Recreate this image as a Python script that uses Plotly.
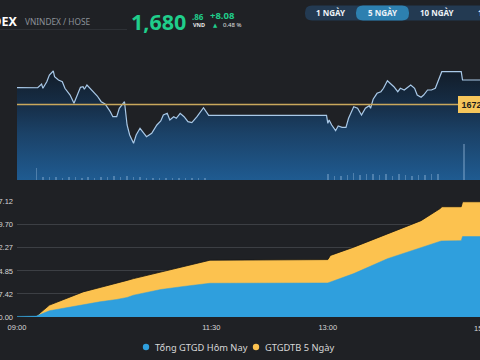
import plotly.graph_objects as go

DAY = "2025-01-06 "

# ---------------- data ----------------
ref_price = 1672.78

price_time = ["09:00", "09:15", "09:16", "09:19", "09:20", "09:23", "09:25", "09:28", "09:29", "09:32",
              "09:35", "09:37", "09:40", "09:41", "09:44", "09:46", "09:49", "09:51", "09:52", "09:54",
              "09:58", "10:02", "10:05", "10:08", "10:12", "10:14", "10:17", "10:19", "10:23", "10:24",
              "10:25", "10:27", "10:30", "10:32", "10:35", "10:38", "10:40", "10:44", "10:48", "10:51",
              "10:53", "10:56", "10:58", "11:01", "11:03", "11:06", "11:09", "11:12", "11:15", "11:19",
              "11:24", "11:28", "12:59", "13:00", "13:01", "13:03", "13:06", "13:08", "13:11", "13:14",
              "13:16", "13:20", "13:23", "13:26", "13:29", "13:32", "13:33", "13:35", "13:38", "13:41",
              "13:43", "13:46", "13:48", "13:51", "13:54", "13:56", "13:59", "14:01", "14:04", "14:07",
              "14:09", "14:12", "14:14", "14:17", "14:20", "14:23", "14:25", "14:27", "14:28", "14:43",
              "14:44", "14:58"]
price_value = [1678.32, 1678.32, 1678.30, 1679.54, 1678.12, 1680.30, 1682.51, 1683.83, 1681.95, 1680.86,
               1680.30, 1678.12, 1676.67, 1675.91, 1673.18, 1675.35, 1678.45, 1678.65, 1677.79, 1679.21,
               1677.56, 1675.58, 1673.70, 1672.94, 1670.41, 1668.76, 1668.76, 1671.53, 1673.70, 1670.41,
               1666.02, 1662.72, 1659.98, 1662.72, 1664.93, 1663.28, 1662.16, 1663.28, 1666.02, 1667.34,
               1669.32, 1669.88, 1667.67, 1668.76, 1668.23, 1669.88, 1668.76, 1667.11, 1666.78, 1668.76,
               1671.72, 1669.20, 1669.20, 1666.58, 1667.67, 1666.02, 1664.14, 1665.69, 1665.26, 1665.26,
               1668.23, 1672.05, 1671.53, 1669.32, 1671.53, 1672.38, 1671.53, 1674.50, 1676.47, 1677.00,
               1678.12, 1680.63, 1679.77, 1678.65, 1677.00, 1678.12, 1677.56, 1678.12, 1679.21, 1678.12,
               1675.91, 1675.15, 1675.91, 1677.56, 1677.56, 1678.12, 1680.30, 1682.51, 1683.60, 1683.60,
               1680.86, 1680.86]

vol_time = ["09:15", "09:20", "09:25", "09:30", "09:35", "09:40", "09:45", "09:50", "09:55", "10:00",
            "10:05", "10:10", "10:15", "10:20", "10:25", "10:30", "10:35", "10:40", "10:45", "10:50",
            "10:55", "11:00", "11:05", "11:10", "11:15", "11:20", "11:25",
            "13:00", "13:05", "13:10", "13:15", "13:20", "13:25", "13:30", "13:35", "13:40", "13:45",
            "13:50", "13:55", "14:00", "14:05", "14:10", "14:15", "14:20", "14:25", "14:45"]
vol_value = [8.5, 2.2, 1.8, 2.0, 1.6, 1.9, 2.3, 1.5, 1.8, 1.7,
             2.0, 2.4, 2.8, 2.2, 3.0, 1.8, 1.9, 1.5, 1.4, 1.6,
             1.5, 1.3, 1.4, 1.2, 1.3, 1.1, 1.2,
             4.5, 2.6, 2.8, 3.4, 4.8, 3.6, 4.2, 4.6, 3.8, 4.0,
             3.2, 4.4, 3.6, 3.0, 3.8, 3.4, 4.0, 4.6, 25.5]

cum_time = ["09:00", "09:15", "09:25", "09:38", "09:51", "10:04", "10:17", "10:25", "10:30", "10:43",
            "10:51", "11:10", "11:29", "13:00", "13:02", "13:20", "13:46", "14:12", "14:27", "14:28",
            "14:43", "14:44", "14:58"]
avg5_value = [0.2, 0.3, 3.84, 5.98, 8.10, 9.50, 10.78, 11.80, 12.38, 13.66,
              14.50, 16.48, 18.30, 18.50, 19.84, 22.50, 26.78, 31.04, 35.00, 35.52,
              35.52, 37.12, 37.12]
today_value = [0.2, 0.3, 2.02, 2.98, 4.06, 4.90, 5.66, 6.30, 7.04, 8.10,
               8.86, 9.92, 10.88, 10.98, 11.30, 13.98, 18.78, 22.50, 24.42, 24.50,
               24.60, 25.92, 25.92]

ytick_vals = [0, 7.424, 14.848, 22.272, 29.696, 37.12]
ytick_text = ["0.00", "7.42", "14.85", "22.27", "29.70", "37.12"]
xtick_vals = ["09:00", "11:30", "13:00"]
xtick_text = ["09:00", "11:30", "13:00"]
last_tick = "15:00"

series_names = ["Tổng GTGD Hôm Nay", "GTGDTB 5 Ngày"]
buttons = ["1 NGÀY", "5 NGÀY", "10 NGÀY", "1 THÁNG"]

# ---------------- helpers (pixel -> paper) ----------------
W, H = 480, 360
def px(x):
    return x / W
def py(y):
    return 1 - y / H

def rrect(x0, y0, x1, y1, r):
    X = lambda v: f"{px(v):.5f}"
    Y = lambda v: f"{py(v):.5f}"
    return (f"M {X(x0 + r)},{Y(y0)} L {X(x1 - r)},{Y(y0)} Q {X(x1)},{Y(y0)} {X(x1)},{Y(y0 + r)} "
            f"L {X(x1)},{Y(y1 - r)} Q {X(x1)},{Y(y1)} {X(x1 - r)},{Y(y1)} "
            f"L {X(x0 + r)},{Y(y1)} Q {X(x0)},{Y(y1)} {X(x0)},{Y(y1 - r)} "
            f"L {X(x0)},{Y(y0 + r)} Q {X(x0)},{Y(y0)} {X(x0 + r)},{Y(y0)} Z")

BG = "#1f2125"
BLUE = "#2f9fdd"
YELLOW = "#fcc24f"
GREEN = "#1fce8b"

fig = go.Figure()

# price area with vertical gradient
fig.add_trace(go.Scatter(
    x=[DAY + t for t in price_time], y=price_value, mode="lines",
    line=dict(color="#a9c9e8", width=1.2), fill="tozeroy",
    fillgradient=dict(type="vertical", start=1647.9, stop=1686,
                      colorscale=[[0, "rgb(31,91,145)"], [0.4, "rgb(27,66,104)"],
                                  [0.66, "rgb(22,45,70)"], [1, "rgb(17,25,35)"]]),
    xaxis="x", yaxis="y", hoverinfo="skip"))

# volume bars
fig.add_trace(go.Bar(
    x=[DAY + t for t in vol_time], y=vol_value, width=70000,
    marker=dict(color="rgba(170,200,232,0.35)", line=dict(width=0)),
    xaxis="x", yaxis="y3", hoverinfo="skip"))

# reference line
fig.add_trace(go.Scatter(
    x=[DAY + "09:00", DAY + "14:57:30"], y=[ref_price, ref_price], mode="lines",
    line=dict(color="#c9a85c", width=1.6), xaxis="x", yaxis="y", hoverinfo="skip"))

# cumulative areas
fig.add_trace(go.Scatter(
    x=[DAY + t for t in cum_time], y=avg5_value, mode="lines", name=series_names[1],
    line=dict(color="#151515", width=0.8), fill="tozeroy", fillcolor=YELLOW,
    xaxis="x2", yaxis="y2"))
fig.add_trace(go.Scatter(
    x=[DAY + t for t in cum_time], y=today_value, mode="lines", name=series_names[0],
    line=dict(color=BLUE, width=0.5), fill="tozeroy", fillcolor=BLUE,
    xaxis="x2", yaxis="y2"))

x_dom = [px(17), 1]
fig.update_layout(
    width=W, height=H, margin=dict(l=0, r=0, t=0, b=0, pad=0), autosize=False,
    paper_bgcolor=BG, plot_bgcolor=BG, showlegend=False, bargap=0,
    xaxis=dict(domain=x_dom, type="date", range=[DAY + "09:00", DAY + "14:57:30"], automargin=False,
               showticklabels=False, showgrid=False, zeroline=False, anchor="y"),
    yaxis=dict(domain=[py(180), py(40)], range=[1647.88, 1694.05], visible=False, automargin=False),
    yaxis3=dict(overlaying="y", range=[0, 100], visible=False, automargin=False),
    xaxis2=dict(domain=x_dom, type="date", matches="x", anchor="y2", automargin=False,
                tickvals=[DAY + t for t in xtick_vals], ticktext=xtick_text,
                showgrid=False, zeroline=False, ticks="", ticklabelstandoff=4,
                tickfont=dict(family="Liberation Sans", size=7.5, color="#d6d6d6")),
    yaxis2=dict(domain=[py(317.5), py(201.2)], range=[-0.15, 37.3], automargin=False,
                tickvals=ytick_vals, ticktext=ytick_text, showgrid=True, ticklabelstandoff=3,
                gridcolor="#3c3f44", gridwidth=1, zeroline=False, ticks="",
                tickfont=dict(family="Liberation Sans", size=7.5, color="#d6d6d6")),
)

shapes = []
annotations = []

# header separator
shapes.append(dict(type="line", xref="paper", yref="paper", x0=0, x1=px(127), y0=py(29.5), y1=py(29.5),
                   line=dict(color="#2e3136", width=1)))

# header texts
HF = "Noto Sans"
annotations += [
    dict(text="<b>VNINDEX</b>", x=px(18.5), y=py(21), xanchor="right", yanchor="middle",
         font=dict(family=HF, size=12.5, color="#ffffff")),
    dict(text="VNINDEX / HOSE", x=px(23), y=py(21.5), xanchor="left", yanchor="middle",
         font=dict(family=HF, size=8.3, color="#8d9299")),
    dict(text="<b>1,680</b>", x=px(129), y=py(21), xanchor="left", yanchor="middle",
         font=dict(family=HF, size=21.5, color=GREEN)),
    dict(text="<b>.86</b>", x=px(190), y=py(16.5), xanchor="left", yanchor="middle",
         font=dict(family=HF, size=8, color=GREEN)),
    dict(text="<b>VND</b>", x=px(190.5), y=py(25.3), xanchor="left", yanchor="middle",
         font=dict(family=HF, size=5.5, color="#e6e6e6")),
    dict(text="<b>+8.08</b>", x=px(208), y=py(16), xanchor="left", yanchor="middle",
         font=dict(family=HF, size=9.5, color=GREEN)),
    dict(text="▲", x=px(210.5), y=py(25.5), xanchor="left", yanchor="middle",
         font=dict(family="DejaVu Sans", size=5.5, color=GREEN)),
    dict(text="0.48 %", x=px(221), y=py(25.3), xanchor="left", yanchor="middle",
         font=dict(family=HF, size=6, color="#e0e0e0")),
]

# range buttons
shapes.append(dict(type="path", xref="paper", yref="paper", path=rrect(305, 5.5, 520, 20.5, 7),
                   fillcolor="#233a52", line=dict(width=0)))
shapes.append(dict(type="path", xref="paper", yref="paper", path=rrect(356, 5.5, 409, 20.5, 7),
                   fillcolor="#2d80b0", line=dict(width=0)))
btn_x = [331, 382.5, 437, 476]
for i, (b, bx) in enumerate(zip(buttons, btn_x)):
    annotations.append(dict(text=f"<b>{b}</b>", x=px(bx), y=py(13), xanchor="left" if i == 3 else "center",
                            yanchor="middle", font=dict(family=HF, size=8, color="#eef3f8")))

# reference price label
annotations.append(dict(text=f"<b>{ref_price:.2f}</b>", x=px(458), y=ref_price, xref="paper", yref="y",
                        xanchor="left", yanchor="middle", showarrow=False, bgcolor="#f6c65b",
                        bordercolor="#f6c65b", borderpad=2.5,
                        font=dict(family="Liberation Sans", size=9, color="#1c1c1c")))

# last x tick (15:00), just past the visible edge
annotations.append(dict(text=last_tick, x=px(483.2), y=py(328), xanchor="center", yanchor="middle",
                        font=dict(family="Liberation Sans", size=7.5, color="#d6d6d6")))

# legend
leg = [(146, BLUE, series_names[0], 153), (256, YELLOW, series_names[1], 263)]
for cx, col, name, tx in leg:
    shapes.append(dict(type="circle", xref="paper", yref="paper", x0=px(cx - 3.2), x1=px(cx + 3.2),
                       y0=py(347 + 3.2), y1=py(347 - 3.2), fillcolor=col, line=dict(width=0)))
    annotations.append(dict(text=name, x=px(tx), y=py(347), xanchor="left", yanchor="middle",
                            font=dict(family=HF, size=9.3, color="#d8d8d8")))

for a in annotations:
    a.setdefault("xref", "paper")
    a.setdefault("yref", "paper")
    a.setdefault("showarrow", False)

fig.update_layout(shapes=shapes, annotations=annotations)

fig.write_html("out.html", config={"displayModeBar": False, "staticPlot": True},
               post_script="document.body.style.margin='0px';document.body.style.overflow='hidden';"
                           "document.body.style.background='" + BG + "';")
